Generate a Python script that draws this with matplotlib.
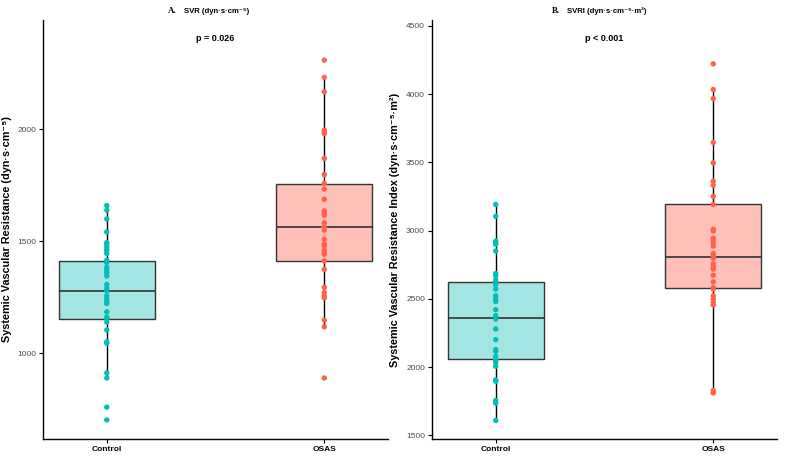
import matplotlib
matplotlib.use("Agg")
import matplotlib.pyplot as plt
import numpy as np

plt.rcParams['font.family'] = ['Liberation Sans', 'DejaVu Sans']

groups = ["Control", "OSAS"]

# panel A: SVR points
ctrl_svr = [1659, 1638, 1599, 1541, 1494, 1487, 1475, 1464, 1457, 1445, 1415, 1405,
            1383, 1371, 1360, 1345, 1307, 1290, 1277, 1256, 1241, 1230, 1222, 1185,
            1162, 1155, 1139, 1104, 1051, 1045, 913, 890, 760, 703]
osas_svr = [2307, 2230, 2166, 1995, 1988, 1980, 1869, 1797, 1757, 1732, 1687, 1635,
            1624, 1616, 1582, 1564, 1549, 1508, 1487, 1479, 1460, 1450, 1442, 1412,
            1374, 1294, 1271, 1256, 1247, 1148, 1118, 890]

# panel B: SVRI points
ctrl_svri = [3191, 3104, 2923, 2911, 2899, 2850, 2685, 2668, 2636, 2619, 2602, 2571,
             2522, 2498, 2480, 2420, 2376, 2363, 2352, 2279, 2201, 2128, 2115, 2077,
             2052, 2035, 2006, 1906, 1896, 1755, 1735, 1609]
osas_svri = [4221, 4033, 3967, 3645, 3496, 3361, 3332, 3250, 3191, 3009, 2996, 2943,
             2928, 2907, 2887, 2832, 2814, 2797, 2755, 2734, 2717, 2672, 2624, 2582,
             2571, 2522, 2498, 2473, 2454, 1828, 1810]

# box stats (whislo, q1, med, q3, whishi) for Control / OSAS
svr_box = [[890, 1155, 1277, 1412, 1659], [1118, 1412, 1561, 1757, 2230]]
svri_box = [[1609, 2060, 2361, 2626, 3191], [1810, 2582, 2809, 3191, 4033]]

svr_ticks = [1000, 1500, 2000]
svri_ticks = [1500, 2000, 2500, 3000, 3500, 4000, 4500]

pt_colors = ["#00BFB6", "#FF6249"]
box_colors = ["#A3E5E2", "#FFC0B9"]


def draw_panel(ax, pts, box, ticks, ylim, ylabel, letter, title, ptext, tx):
    stats = []
    for b in box:
        stats.append(dict(whislo=b[0], q1=b[1], med=b[2], q3=b[3], whishi=b[4], fliers=[]))
    bp = ax.bxp(stats, positions=[1, 2], widths=0.44, showcaps=False, showfliers=False,
                patch_artist=True,
                boxprops=dict(edgecolor="#333333", linewidth=1.0),
                medianprops=dict(color="#333333", linewidth=1.2),
                whiskerprops=dict(color="black", linewidth=1.0))
    for patch, c in zip(bp["boxes"], box_colors):
        patch.set_facecolor(c)
        patch.set_zorder(2)
    for i, vals in enumerate(pts):
        ax.scatter(np.full(len(vals), i + 1), vals, s=15, color=pt_colors[i],
                   edgecolors="none", zorder=3)

    ax.set_xlim(0.707, 2.293)
    ax.set_ylim(ylim)
    ax.set_xticks([1, 2])
    ax.set_xticklabels(groups, fontsize=6, fontweight="bold")
    ax.set_yticks(ticks)
    ax.set_yticklabels([str(t) for t in ticks], fontsize=6, color="#4d4d4d")
    ax.tick_params(length=3, width=0.8, pad=2)
    ax.set_ylabel(ylabel, fontsize=7.8, fontweight="bold", labelpad=4)
    for s in ["top", "right"]:
        ax.spines[s].set_visible(False)
    ax.spines["left"].set_linewidth(1.0)
    ax.spines["bottom"].set_linewidth(1.0)

    ax.text(tx, 1.0215, letter, transform=ax.transAxes, ha="right", va="center",
            fontsize=6.3, fontweight="bold", family="Liberation Serif")
    ax.text(tx + 0.02, 1.0215, title, transform=ax.transAxes, ha="left", va="center",
            fontsize=5.6, fontweight="bold")
    ax.text(0.5, 0.955, ptext, transform=ax.transAxes, ha="center", va="center",
            fontsize=6.5, fontweight="bold")


def main():
    fig = plt.figure(figsize=(7.85, 4.57), dpi=100)
    ax1 = fig.add_axes([0.0548, 0.0394, 0.4395, 0.9168])
    ax2 = fig.add_axes([0.5503, 0.0394, 0.4395, 0.9168])

    draw_panel(ax1, [ctrl_svr, osas_svr], svr_box, svr_ticks, (618, 2486),
               "Systemic Vascular Resistance (dyn·s·cm⁻⁵)",
               "A.", "SVR (dyn·s·cm⁻⁵)", "p = 0.026", 0.3875)
    draw_panel(ax2, [ctrl_svri, osas_svri], svri_box, svri_ticks, (1473, 4542),
               "Systemic Vascular Resistance Index (dyn·s·cm⁻⁵·m²)",
               "B.", "SVRI (dyn·s·cm⁻⁵·m²)", "p < 0.001", 0.371)

    fig.savefig("out.png", dpi=100)


main()
